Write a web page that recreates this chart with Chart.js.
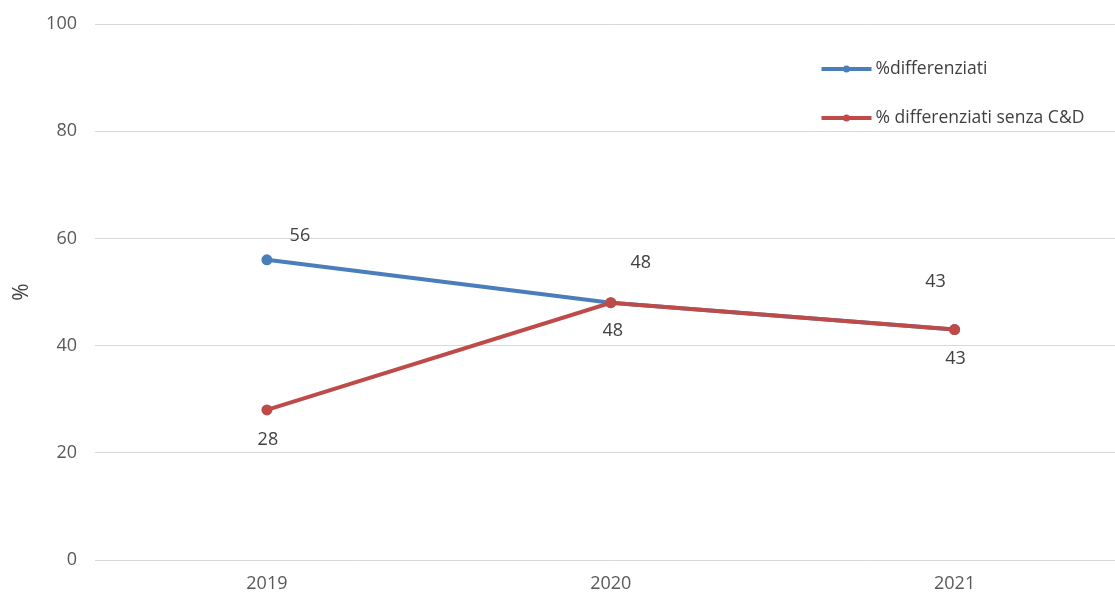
<!DOCTYPE html>
<html>
<head>
<meta charset="utf-8">
<script src="https://cdn.jsdelivr.net/npm/chart.js@4"></script>
<style>
  html, body { margin: 0; padding: 0; background: #fff; overflow: hidden; }
  #wrap { width: 1132px; height: 596px; position: relative; }
</style>
</head>
<body>
<div id="wrap"><canvas id="rdchart"></canvas></div>
<script>
const years = ['2019', '2020', '2021'];
const differenziati = [56, 48, 43];
const differenziatiSenzaCD = [28, 48, 43];
const yTicks = [0, 20, 40, 60, 80, 100];

const BLUE = '#4a7ebb';
const RED = '#be4b48';
const FONT = "'Open Sans', 'Liberation Sans', sans-serif";

// value labels, drawn next to each point
const valueLabels = {
    id: 'valueLabels',
    afterDatasetsDraw(chart) {
        const ctx = chart.ctx;
        ctx.save();
        ctx.font = '18px ' + FONT;
        ctx.fillStyle = '#404040';
        ctx.textAlign = 'center';
        ctx.textBaseline = 'middle';
        chart.data.datasets.forEach((ds, i) => {
            const meta = chart.getDatasetMeta(i);
            meta.data.forEach((pt, j) => {
                const off = ds.labelOffsets[j];
                ctx.fillText(String(ds.data[j]), pt.x + off[0], pt.y + off[1]);
            });
        });
        ctx.restore();
    }
};

// legend inside the plot, top right
const innerLegend = {
    id: 'innerLegend',
    afterDraw(chart) {
        const ctx = chart.ctx;
        const area = chart.chartArea;
        const x0 = area.right - 305;
        ctx.save();
        ctx.font = '17.5px ' + FONT;
        ctx.textBaseline = 'middle';
        chart.data.datasets.forEach((ds, i) => {
            const y = area.top + 45 + i * 49;
            ctx.strokeStyle = ds.borderColor;
            ctx.lineWidth = 4;
            ctx.beginPath();
            ctx.moveTo(x0, y);
            ctx.lineTo(x0 + 50, y);
            ctx.stroke();
            ctx.fillStyle = ds.borderColor;
            ctx.beginPath();
            ctx.arc(x0 + 25, y, 3.5, 0, Math.PI * 2);
            ctx.fill();
            ctx.fillStyle = '#404040';
            ctx.fillText(ds.label, x0 + 54, y);
        });
        ctx.restore();
    }
};

new Chart(document.getElementById('rdchart'), {
    type: 'line',
    data: {
        labels: years,
        datasets: [{
            label: '%differenziati',
            data: differenziati,
            borderColor: BLUE,
            backgroundColor: BLUE,
            borderWidth: 4,
            pointRadius: 5.5,
            pointBorderWidth: 0,
            pointHoverRadius: 5.5,
            tension: 0,
            order: 1,
            labelOffsets: [[33, -24], [30, -40], [-19, -48]]
        }, {
            label: '% differenziati senza C&D',
            data: differenziatiSenzaCD,
            borderColor: RED,
            backgroundColor: RED,
            borderWidth: 4,
            pointRadius: 5.5,
            pointBorderWidth: 0,
            pointHoverRadius: 5.5,
            tension: 0,
            order: 0,
            labelOffsets: [[1, 30], [2, 28], [1, 29]]
        }]
    },
    options: {
        responsive: true,
        maintainAspectRatio: false,
        animation: false,
        layout: { padding: { top: 24, right: 0, left: 0, bottom: 0 } },
        scales: {
            x: {
                offset: true,
                grid: { display: false, drawTicks: false },
                border: { display: false },
                ticks: { color: '#595959', font: { family: FONT, size: 18 }, padding: 13 },
                afterFit(scale) {
                    scale.height = 36;
                    scale.paddingLeft = 0;
                    scale.paddingRight = 0;
                }
            },
            y: {
                min: 0,
                max: 100,
                afterBuildTicks(scale) { scale.ticks = yTicks.map(v => ({ value: v })); },
                grid: { color: '#d9d9d9', lineWidth: 1, drawTicks: false },
                border: { display: false },
                ticks: { color: '#595959', font: { family: FONT, size: 18 }, padding: 18 },
                title: {
                    display: true,
                    text: '%',
                    color: '#404040',
                    font: { family: FONT, size: 21 },
                    padding: { top: 9, bottom: 0 }
                },
                afterFit(scale) {
                    scale.width = 95;
                    scale.paddingTop = 0;
                    scale.paddingBottom = 0;
                }
            }
        },
        plugins: {
            legend: { display: false },
            tooltip: { enabled: false }
        }
    },
    plugins: [valueLabels, innerLegend]
});
</script>
</body>
</html>
